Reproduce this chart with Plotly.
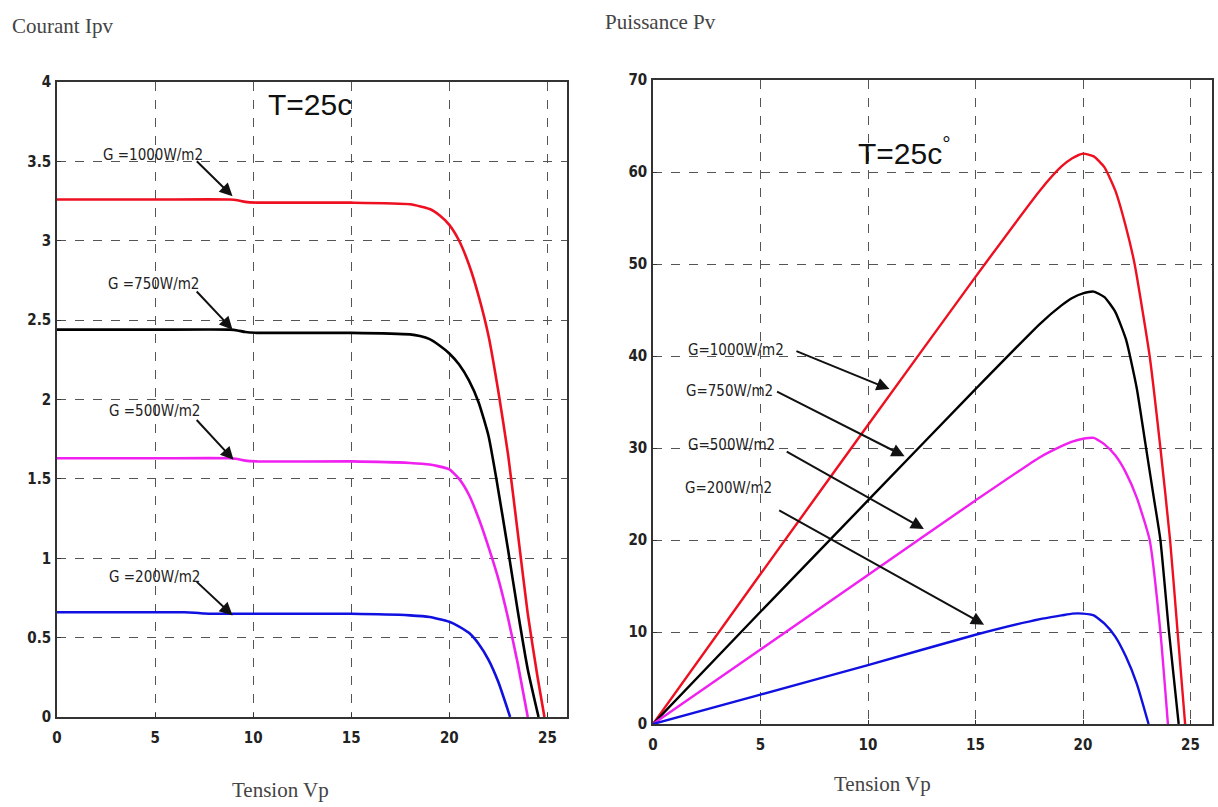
import plotly.graph_objects as go

# I-V characteristics (Courant Ipv vs Tension Vp), T = 25 C
v_1000 = [0, 5, 8.8, 9.2, 9.6, 10.2, 15, 18, 19, 19.5, 20, 20.5, 21, 21.5, 22, 22.5, 23, 23.5, 24, 24.5, 24.85]
i_1000 = [3.26, 3.26, 3.26, 3.255, 3.245, 3.24, 3.24, 3.23, 3.20, 3.16, 3.10, 3.00, 2.85, 2.65, 2.40, 2.05, 1.65, 1.15, 0.65, 0.25, 0]

v_750 = [0, 5, 8.8, 9.2, 9.6, 10.2, 15, 18, 18.5, 19, 19.5, 20, 20.5, 21, 21.5, 22, 22.4, 23.0, 23.5, 24.0, 24.55]
i_750 = [2.44, 2.44, 2.44, 2.435, 2.425, 2.42, 2.42, 2.41, 2.40, 2.38, 2.34, 2.29, 2.22, 2.12, 1.98, 1.77, 1.50, 1.05, 0.66, 0.30, 0]

v_500 = [0, 5, 8.8, 9.2, 9.6, 10.2, 15, 18, 19, 20, 20.5, 21, 21.5, 22, 22.5, 23, 23.5, 24.0]
i_500 = [1.63, 1.63, 1.63, 1.625, 1.615, 1.61, 1.61, 1.60, 1.59, 1.56, 1.50, 1.40, 1.25, 1.07, 0.87, 0.62, 0.33, 0]

v_200 = [0, 6.5, 7.0, 7.5, 8.0, 15, 18, 19, 20, 20.5, 21, 21.5, 22, 22.5, 23.1]
i_200 = [0.66, 0.66, 0.657, 0.652, 0.65, 0.65, 0.64, 0.63, 0.60, 0.57, 0.53, 0.46, 0.36, 0.22, 0]

# P-V characteristics (Puissance Pv vs Tension Vp)
pv_1000 = [0, 5, 10, 15, 18, 19, 19.5, 20, 20.5, 21, 21.5, 22, 22.4, 23.1, 23.6, 24.05, 24.4, 24.75]
p_1000 = [0, 16.3, 32.5, 48.6, 58.0, 60.6, 61.5, 62.0, 61.7, 60.5, 58.0, 54.0, 50.0, 40.0, 30.0, 20.0, 10.0, 0]

pv_750 = [0, 5, 10, 15, 18, 19, 19.5, 20, 20.5, 21, 21.5, 22, 22.5, 22.9, 23.3, 23.6, 24.0, 24.45]
p_750 = [0, 12.2, 24.3, 36.4, 43.5, 45.5, 46.3, 46.8, 47.0, 46.4, 44.8, 41.8, 36.5, 30.5, 24.5, 20.0, 10.0, 0]

pv_500 = [0, 5, 10, 15, 18, 19, 19.5, 20, 20.5, 21, 21.5, 22, 22.5, 23.1, 23.6, 23.95]
p_500 = [0, 8.1, 16.2, 24.3, 29.0, 30.2, 30.7, 31.0, 31.1, 30.4, 29.2, 27.3, 24.6, 20.0, 10.0, 0]

pv_200 = [0, 5, 10, 15, 18, 19, 19.5, 20, 20.5, 21, 21.5, 22, 22.5, 23.05]
p_200 = [0, 3.2, 6.4, 9.7, 11.4, 11.8, 12.0, 12.0, 11.8, 10.9, 9.5, 7.3, 4.4, 0]

labels_left = ["G =1000W/m2", "G =750W/m2", "G =500W/m2", "G =200W/m2"]
labels_right = ["G=1000W/m2", "G=750W/m2", "G=500W/m2", "G=200W/m2"]
colors = ["#ee1020", "#000000", "#f020f0", "#1010e0"]

x_ticks = [0, 5, 10, 15, 20, 25]
i_ticks = [0, 0.5, 1, 1.5, 2, 2.5, 3, 3.5, 4]
i_tick_text = ["0", "0.5", "1", "1.5", "2", "2.5", "3", "3.5", "4"]
p_ticks = [0, 10, 20, 30, 40, 50, 60, 70]

fig = go.Figure()

iv_sets = [(v_1000, i_1000), (v_750, i_750), (v_500, i_500), (v_200, i_200)]
pv_sets = [(pv_1000, p_1000), (pv_750, p_750), (pv_500, p_500), (pv_200, p_200)]

for (vx, iy), c in zip(iv_sets, colors):
    fig.add_trace(go.Scatter(x=vx, y=iy, mode="lines", line=dict(color=c, width=2.6, shape="spline", smoothing=0.5),
                             xaxis="x", yaxis="y", showlegend=False, hoverinfo="skip"))
for (vx, py), c in zip(pv_sets, colors):
    fig.add_trace(go.Scatter(x=vx, y=py, mode="lines", line=dict(color=c, width=2.4, shape="spline", smoothing=0.5),
                             xaxis="x2", yaxis="y2", showlegend=False, hoverinfo="skip"))

cond = "DejaVu Sans Condensed, Liberation Sans Narrow, Arial Narrow, sans-serif"
tick_font = dict(family=cond, size=15, color="#222", weight="bold")
axis_common = dict(showline=True, linecolor="#333", linewidth=1.5, mirror=True,
                   showgrid=True, gridcolor="#555", griddash="dash", gridwidth=1.2,
                   ticks="inside", ticklen=4, tickcolor="#333", tickfont=tick_font,
                   zeroline=False, fixedrange=True, automargin=False)

W, H = 1218, 807
fig.update_layout(
    width=W, height=H,
    margin=dict(l=0, r=0, t=0, b=0),
    paper_bgcolor="white", plot_bgcolor="white",
    xaxis=dict(domain=[57 / W, 567 / W], range=[0, 26], tickvals=x_ticks, anchor="y",
               ticklabelstandoff=6, **axis_common),
    yaxis=dict(domain=[(H - 717) / H, (H - 82) / H], range=[0, 4], tickvals=i_ticks, ticktext=i_tick_text,
               anchor="x", ticklabelstandoff=1, **axis_common),
    xaxis2=dict(domain=[653 / W, 1212 / W], range=[0, 26], tickvals=x_ticks, anchor="y2",
                ticklabelstandoff=6, **axis_common),
    yaxis2=dict(domain=[(H - 724) / H, (H - 80) / H], range=[0, 70], tickvals=p_ticks, anchor="x2",
                ticklabelstandoff=1, **axis_common),
)

ann = []
label_font = dict(family=cond, size=15, color="#222")

# curve labels and arrows, left panel (x, y in data units)
left_text_pos = [(4.9, 3.54), (4.9, 2.73), (4.95, 1.93), (4.95, 0.88)]
left_tail = [(7.05, 3.51), (7.05, 2.69), (7.05, 1.88), (7.05, 0.86)]
left_head = [(8.95, 3.28), (8.95, 2.44), (9.0, 1.62), (8.95, 0.64)]
for t, (tx, ty), (ax_, ay_), (hx, hy) in zip(labels_left, left_text_pos, left_tail, left_head):
    ann.append(dict(x=tx, y=ty, xref="x", yref="y", text=t, showarrow=False, font=label_font))
    ann.append(dict(x=hx, y=hy, xref="x", yref="y", ax=ax_, ay=ay_, axref="x", ayref="y", text="",
                    showarrow=True, arrowhead=2, arrowsize=1.3, arrowwidth=2, arrowcolor="#111"))

# curve labels and arrows, right panel
right_text_pos = [(3.85, 40.6), (3.55, 36.2), (3.65, 30.3), (3.5, 25.7)]
right_tail = [(6.6, 40.6), (5.7, 36.2), (6.15, 29.7), (5.8, 23.3)]
right_head = [(11.0, 36.4), (11.7, 29.1), (12.6, 21.2), (15.4, 10.8)]
for t, (tx, ty), (ax_, ay_), (hx, hy) in zip(labels_right, right_text_pos, right_tail, right_head):
    ann.append(dict(x=tx, y=ty, xref="x2", yref="y2", text=t, showarrow=False, font=label_font))
    ann.append(dict(x=hx, y=hy, xref="x2", yref="y2", ax=ax_, ay=ay_, axref="x2", ayref="y2", text="",
                    showarrow=True, arrowhead=2, arrowsize=1.3, arrowwidth=2, arrowcolor="#111"))

# temperature labels
temp_font = dict(family="Liberation Sans, Arial, sans-serif", size=30, color="#111")
ann.append(dict(x=12.9, y=3.86, xref="x", yref="y", text="T=25c", showarrow=False, font=temp_font))
ann.append(dict(x=11.7, y=62.3, xref="x2", yref="y2", text="T=25c<sup>°</sup>", showarrow=False, font=temp_font))

# axis names
name_font = dict(family="Liberation Serif, Times New Roman, serif", size=21, color="#444")
for txt, px, py, anchor in [("Courant Ipv", 10, 26, "left"), ("Puissance Pv", 603, 22, "left"),
                            ("Tension Vp", 280, 790, "center"), ("Tension Vp", 882, 784, "center")]:
    ann.append(dict(x=px / W, y=1 - py / H, xref="paper", yref="paper", text=txt, showarrow=False,
                    xanchor=anchor, yanchor="middle", font=name_font))

fig.update_layout(annotations=ann)
fig.write_html("out.html")
